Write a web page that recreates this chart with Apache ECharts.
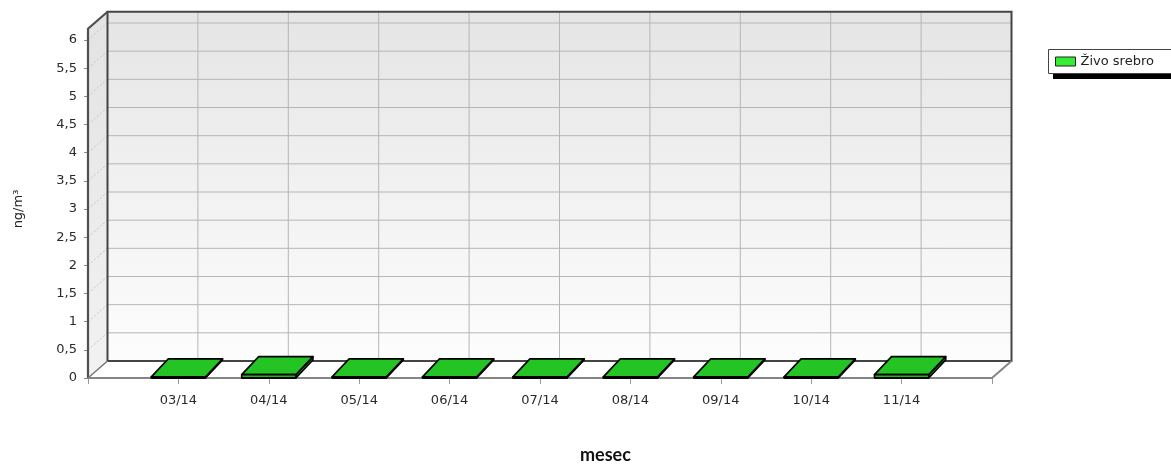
<!DOCTYPE html>
<html>
<head>
<meta charset="utf-8">
<script src="https://cdn.jsdelivr.net/npm/echarts@6/dist/echarts.min.js"></script>
<style>
html,body{margin:0;padding:0;background:#fff;}
#chart{width:1171px;height:465px;}
</style>
</head>
<body>
<div id="chart"></div>
<script>
// ---- data ----
const axisCategories = ['', '03/14', '04/14', '05/14', '06/14', '07/14', '08/14', '09/14', '10/14', '11/14', ''];
const barCategories = ['03/14', '04/14', '05/14', '06/14', '07/14', '08/14', '09/14', '10/14', '11/14'];
const mercuryValues = [0.02, 0.06, 0.02, 0.02, 0.02, 0.02, 0.02, 0.02, 0.06];
const yTickValues = [0, 0.5, 1, 1.5, 2, 2.5, 3, 3.5, 4, 4.5, 5, 5.5, 6];
const seriesName = 'Živo srebro';
const yAxisName = 'ng/m³';
const xAxisName = 'mesec';

// ---- 3D look ----
const WALL_TOP = 6.2;
const DX = 19.5, DY = -17;
const BDX = 17, BDY = -18;

const chart = echarts.init(document.getElementById('chart'), null, {renderer: 'canvas'});

function wallsRender(params, api) {
  const last = axisCategories.length - 1;
  const p0 = api.coord([0, 0]);
  const p1 = api.coord([last, 0]);
  const pt = api.coord([0, WALL_TOP]);
  const x0 = p0[0], x1 = p1[0], y0 = p0[1], yT = pt[1];
  const ch = [];
  ch.push({type: 'rect', shape: {x: x0 + DX, y: yT + DY, width: x1 - x0, height: y0 - yT},
    style: {fill: new echarts.graphic.LinearGradient(0, 0, 0, 1, [{offset: 0, color: '#e5e5e5'}, {offset: 1, color: '#fdfdfd'}])}});
  ch.push({type: 'polygon', shape: {points: [[x0, yT], [x0 + DX, yT + DY], [x0 + DX, y0 + DY], [x0, y0]]},
    style: {fill: new echarts.graphic.LinearGradient(0, 0, 0, 1, [{offset: 0, color: '#e3e3e3'}, {offset: 1, color: '#f2f2f2'}])}});
  ch.push({type: 'polygon', shape: {points: [[x0, y0], [x1, y0], [x1 + DX, y0 + DY], [x0 + DX, y0 + DY]]},
    style: {fill: '#ffffff'}});
  yTickValues.forEach(function (v) {
    const y = api.coord([0, v])[1];
    ch.push({type: 'line', shape: {x1: x0 + DX, y1: y + DY, x2: x1 + DX, y2: y + DY},
      style: {stroke: '#b6b6b6', lineWidth: 1}});
    if (v > 0) {
      ch.push({type: 'line', shape: {x1: x0, y1: y, x2: x0 + DX, y2: y + DY},
        style: {stroke: '#c4c4c4', lineWidth: 1, lineDash: [2, 2]}});
    }
  });
  for (let k = 1; k < last; k++) {
    const x = api.coord([k, 0])[0];
    ch.push({type: 'line', shape: {x1: x + DX, y1: yT + DY, x2: x + DX, y2: y0 + DY},
      style: {stroke: '#b6b6b6', lineWidth: 1}});
  }
  const dark = '#444';
  ch.push({type: 'polyline', shape: {points: [[x0 + DX, y0 + DY], [x0 + DX, yT + DY], [x1 + DX, yT + DY], [x1 + DX, y0 + DY], [x0 + DX, y0 + DY]]},
    style: {stroke: dark, lineWidth: 2, fill: null}});
  ch.push({type: 'polyline', shape: {points: [[x0, y0], [x0, yT], [x0 + DX, yT + DY]]},
    style: {stroke: '#505050', lineWidth: 2.2, fill: null}});
  ch.push({type: 'polyline', shape: {points: [[x0, y0], [x1, y0], [x1 + DX, y0 + DY]]},
    style: {stroke: '#858585', lineWidth: 2, fill: null}});
  ch.push({type: 'line', shape: {x1: x0, y1: y0, x2: x0 + DX, y2: y0 + DY},
    style: {stroke: '#777', lineWidth: 1.5}});
  return {type: 'group', children: ch};
}

function barRender(params, api) {
  const idx = api.value(0);
  const v = api.value(1);
  const pb = api.coord([idx, 0]);
  const pv = api.coord([idx, v]);
  const band = api.coord([1, 0])[0] - api.coord([0, 0])[0];
  const w = band * 0.6;
  const xl = pb[0] - w / 2, xr = pb[0] + w / 2;
  const y0 = pb[1], yv = pv[1];
  const st = {stroke: '#000', lineWidth: 1.6, lineJoin: 'round'};
  return {type: 'group', children: [
    {type: 'polygon', shape: {points: [[xr, y0], [xr, yv], [xr + BDX, yv + BDY], [xr + BDX, y0 + BDY]]},
      style: Object.assign({fill: '#159915'}, st)},
    {type: 'polygon', shape: {points: [[xl, yv], [xr, yv], [xr + BDX, yv + BDY], [xl + BDX, yv + BDY]]},
      style: Object.assign({fill: '#24c424'}, st)},
    {type: 'rect', shape: {x: xl, y: yv, width: w, height: y0 - yv},
      style: Object.assign({fill: '#1fb41f'}, st)},
    {type: 'line', shape: {x1: xl, y1: y0, x2: xr, y2: y0}, style: {stroke: '#000', lineWidth: 2.2}}
  ]};
}

const font = 'DejaVu Sans';
const option = {
  animation: false,
  backgroundColor: '#ffffff',
  title: {
    text: xAxisName, left: 580, top: 446, padding: 0,
    textStyle: {fontFamily: 'Lato', fontWeight: 'bold', fontSize: 18, color: '#111'}
  },
  graphic: [
    {type: 'rect', z: 0, silent: true, shape: {x: 1053, y: 54, width: 140, height: 25}, style: {fill: '#000'}},
    {type: 'rect', z: 1, silent: true, shape: {x: 1048.5, y: 49.5, width: 140, height: 24}, style: {fill: '#fff', stroke: '#444', lineWidth: 1}}
  ],
  legend: {
    data: [{name: seriesName, icon: 'rect'}],
    left: 1048, top: 50,
    orient: 'vertical',
    itemWidth: 20, itemHeight: 9, itemGap: 0,
    padding: [5, 10, 5, 7],
    z: 10,
    itemStyle: {color: '#33ee33', borderColor: '#222', borderWidth: 1},
    textStyle: {fontFamily: font, fontSize: 13, color: '#222'},
    selectedMode: false
  },
  grid: {left: 88, right: 179, top: 40, bottom: 87},
  xAxis: {
    type: 'category',
    data: axisCategories,
    boundaryGap: false,
    axisLine: {show: false},
    axisTick: {show: true, length: 6, interval: 0, lineStyle: {color: '#9a9a9a'}},
    axisLabel: {interval: 0, margin: 16, fontFamily: font, fontSize: 13, color: '#2a2a2a'},
    splitLine: {show: false}
  },
  yAxis: {
    type: 'value',
    min: 0, max: 6, interval: 0.5,
    name: yAxisName,
    nameLocation: 'middle', nameGap: 63, nameRotate: 90,
    nameTextStyle: {fontFamily: font, fontSize: 13, color: '#222'},
    axisLine: {show: false},
    axisTick: {show: true, length: 4, lineStyle: {color: '#8a8a8a'}},
    axisLabel: {margin: 11, fontFamily: font, fontSize: 13, color: '#2a2a2a',
      formatter: function (v) { return String(v).replace('.', ','); }},
    splitLine: {show: false}
  },
  series: [
    {
      type: 'custom', name: '_walls', silent: true, z: 1,
      data: [[0, 0]],
      renderItem: wallsRender,
      clip: false
    },
    {
      type: 'custom', name: seriesName, z: 3,
      itemStyle: {color: '#33ee33'},
      data: barCategories.map(function (c, i) { return [c, mercuryValues[i]]; }),
      encode: {x: 0, y: 1},
      renderItem: barRender,
      clip: false
    }
  ]
};
chart.setOption(option);
</script>
</body>
</html>
